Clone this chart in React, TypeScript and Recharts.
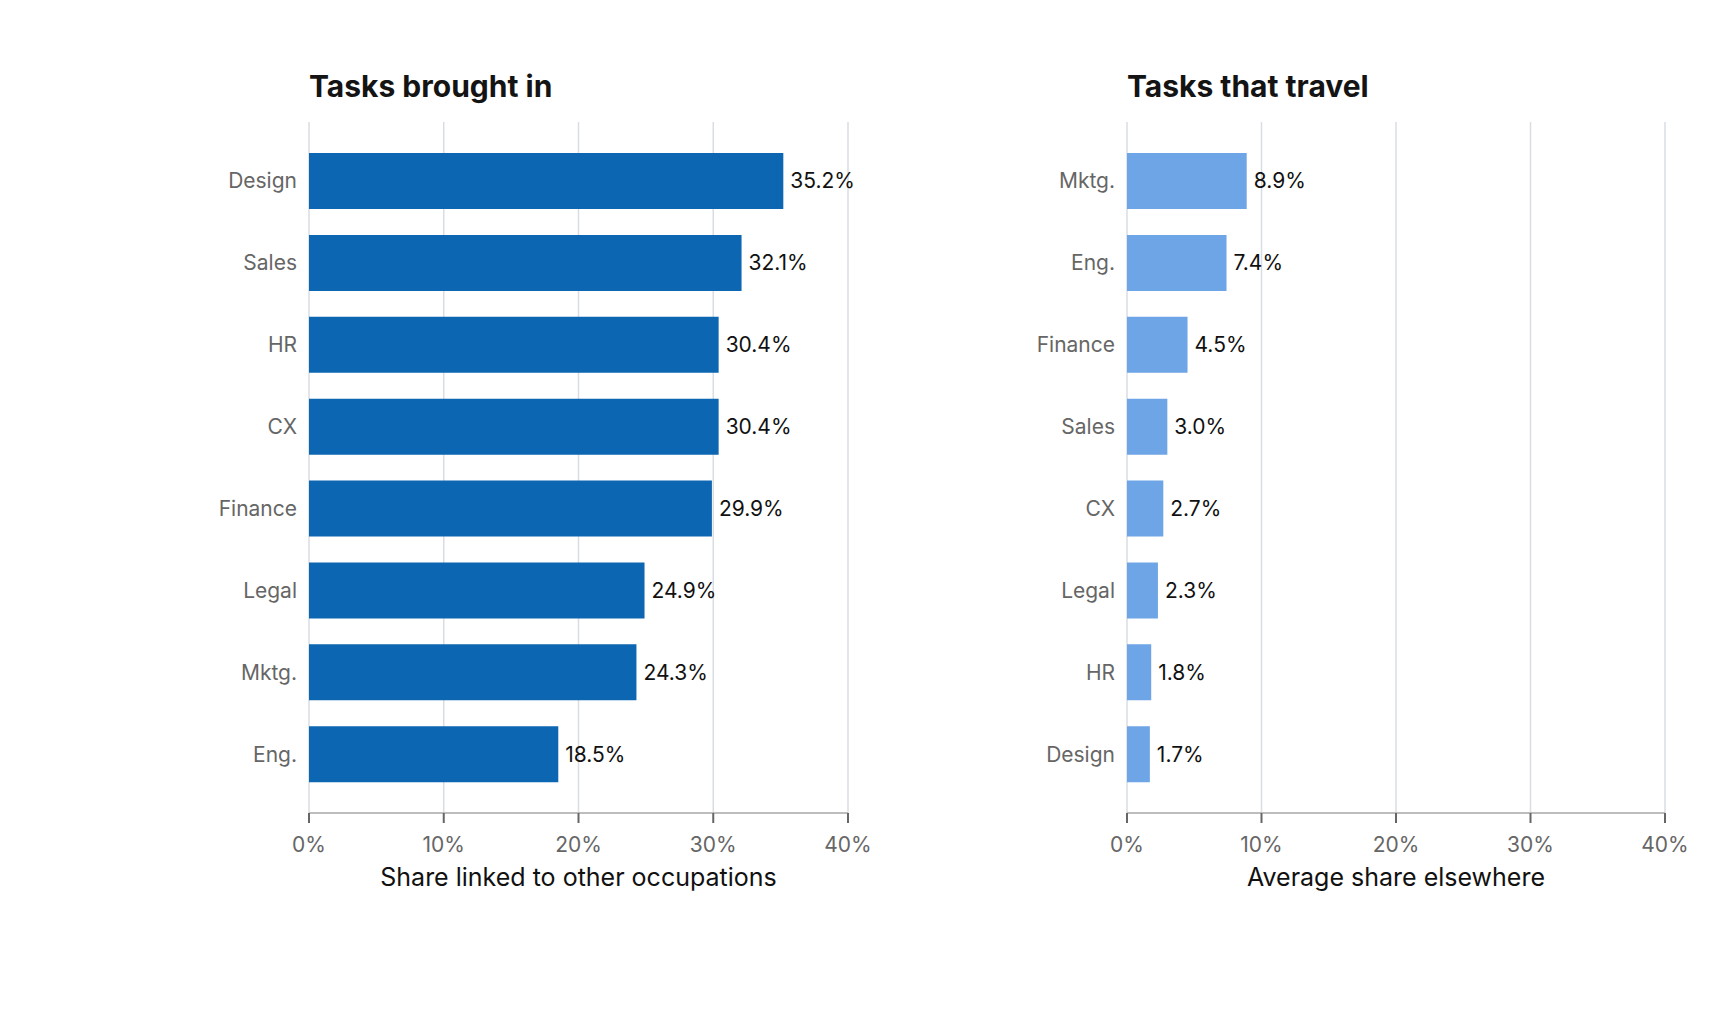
import React from 'react';
import { BarChart, Bar, XAxis, YAxis, CartesianGrid, LabelList } from 'recharts';

// left panel: share linked to other occupations
const broughtCategories = ['Design', 'Sales', 'HR', 'CX', 'Finance', 'Legal', 'Mktg.', 'Eng.'];
const broughtValues = [35.2, 32.1, 30.4, 30.4, 29.9, 24.9, 24.3, 18.5];

// right panel: average share elsewhere
const travelCategories = ['Mktg.', 'Eng.', 'Finance', 'Sales', 'CX', 'Legal', 'HR', 'Design'];
const travelValues = [8.9, 7.4, 4.5, 3.0, 2.7, 2.3, 1.8, 1.7];

const xTicks = [0, 10, 20, 30, 40];

const FONT = 'Inter, "Noto Sans", sans-serif';
const CHART_W = 900;
const CHART_H = 1016;

const AxisTitle = (props: any) => {
  const { viewBox, text } = props;
  if (!viewBox) return null;
  return (
    <text
      x={viewBox.x + viewBox.width / 2}
      y={viewBox.y + 73}
      textAnchor="middle"
      fontSize={25}
      fontFamily={FONT}
      fill="#111111"
    >
      {text}
    </text>
  );
};

type PanelProps = {
  title: string;
  axisTitle: string;
  categories: string[];
  values: number[];
  color: string;
  offsetX: number;
  plotLeft: number;
  plotRight: number;
};

const Panel = ({ title, axisTitle, categories, values, color, offsetX, plotLeft, plotRight }: PanelProps) => {
  const data = categories.map((name, i) => ({ name, value: values[i] }));
  return (
    <div style={{ position: 'absolute', left: offsetX, top: 0, width: CHART_W, height: CHART_H }}>
      <div
        style={{
          position: 'absolute',
          left: plotLeft,
          top: 71,
          fontFamily: FONT,
          fontSize: 30,
          lineHeight: '30px',
          fontWeight: 700,
          color: '#141414',
          whiteSpace: 'nowrap',
        }}
      >
        {title}
      </div>
      <BarChart
        width={CHART_W}
        height={CHART_H}
        data={data}
        layout="vertical"
        margin={{ top: 122, right: CHART_W - plotRight, left: plotLeft - 100, bottom: 123 }}
        barSize={56}
      >
        <CartesianGrid horizontal={false} stroke="#d9dde3" strokeWidth={1.5} />
        <XAxis
          type="number"
          domain={[0, 40]}
          ticks={xTicks}
          height={80}
          tickFormatter={(v: number) => `${v}%`}
          axisLine={{ stroke: '#bdbdbd', strokeWidth: 2 }}
          tickLine={{ stroke: '#666666', strokeWidth: 2 }}
          tickSize={10}
          tickMargin={14}
          tick={{ fill: '#666666', fontSize: 21, fontFamily: FONT }}
          label={<AxisTitle text={axisTitle} />}
        />
        <YAxis
          type="category"
          dataKey="name"
          width={100}
          axisLine={false}
          tickLine={false}
          tickSize={0}
          tickMargin={12}
          padding={{ top: 18, bottom: 18 }}
          tick={{ fill: '#666666', fontSize: 21, fontFamily: FONT }}
        />
        <Bar dataKey="value" fill={color} isAnimationActive={false}>
          <LabelList
            dataKey="value"
            position="right"
            offset={7}
            formatter={(v: any) => `${Number(v).toFixed(1)}%`}
            style={{ fill: '#111111', fontSize: 21, fontFamily: FONT }}
          />
        </Bar>
      </BarChart>
    </div>
  );
};

export default function App() {
  return (
    <div style={{ position: 'fixed', left: 0, top: 0, width: 1716, height: 1016, background: '#ffffff' }}>
      <Panel
        title="Tasks brought in"
        axisTitle="Share linked to other occupations"
        categories={broughtCategories}
        values={broughtValues}
        color="#0c66b1"
        offsetX={0}
        plotLeft={309}
        plotRight={848}
      />
      <Panel
        title="Tasks that travel"
        axisTitle="Average share elsewhere"
        categories={travelCategories}
        values={travelValues}
        color="#6ea5e6"
        offsetX={800}
        plotLeft={1127 - 800}
        plotRight={1665 - 800}
      />
    </div>
  );
}
